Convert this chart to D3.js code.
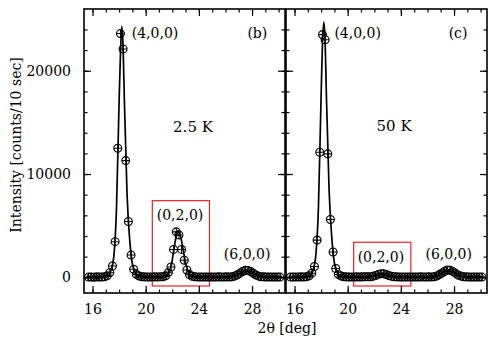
<!DOCTYPE html>
<html><head><meta charset="utf-8">
<script src="https://cdn.jsdelivr.net/npm/d3@7"></script>
<style>
body{margin:0;background:#fff}
svg{display:block}
text{font-family:"DejaVu Serif",serif;fill:#000}
</style>
</head><body>
<svg id="chart" width="490" height="341"></svg>
<script>
// ---- data ----
const angles = [15.7,15.9,16.1,16.3,16.5,16.7,16.9,17.1,17.3,17.5,17.7,17.9,18.1,18.3,18.5,18.7,18.9,19.1,19.3,19.5,19.7,19.9,
  20.1,20.3,20.5,20.7,20.9,21.1,21.3,21.5,21.7,21.9,22.1,22.3,22.5,22.7,22.9,23.1,23.3,23.5,23.7,23.9,
  24.1,24.3,24.5,24.7,24.9,25.1,25.3,25.5,25.7,25.9,26.1,26.3,26.5,26.7,26.9,27.1,27.3,27.5,27.7,27.9,
  28.1,28.3,28.5,28.7,28.9,29.1,29.3,29.5,29.7,29.9,30.1];
const intensity25K = [20,30,10,40,20,30,60,150,450,1100,3450,12500,23600,22100,11300,5400,2150,780,280,120,60,40,
  30,20,30,40,30,50,60,150,450,1000,2700,4400,4100,2700,1650,700,250,100,50,30,
  20,30,20,30,20,30,20,40,30,20,40,30,60,120,250,400,560,680,650,560,
  380,220,110,60,40,30,20,30,20,30,20];
const intensity50K = [20,30,20,30,40,30,60,150,400,1050,3600,12100,23500,23000,11950,5600,2450,850,280,120,60,40,
  30,20,30,40,30,40,50,60,60,100,180,280,350,340,260,170,100,60,40,30,
  20,30,20,30,20,30,20,40,30,20,40,30,60,130,260,420,580,700,680,570,
  400,230,120,60,40,30,20,30,20,30,20];
const fitAngles = [15.6,17.0,17.2,17.4,17.6,17.8,18.0,18.1,18.2,18.3,18.4,18.6,18.8,19.0,19.2,19.4,19.7,
  21.2,21.6,21.9,22.1,22.3,22.45,22.6,22.8,23.0,23.2,23.5,23.9,
  26.2,26.6,27.0,27.3,27.6,27.9,28.2,28.6,29.0,30.2];
const fit25K = [30,60,250,700,2000,6500,17000,21500,24300,22300,17000,8000,3600,1300,500,180,60,
  50,250,1000,2500,4000,4500,4100,2800,1400,550,150,40,
  40,100,320,560,680,560,320,100,40,30];
const fit50K = [30,60,250,700,2100,6800,17500,22500,24700,23000,17500,8500,3900,1400,500,180,60,
  50,80,130,200,300,350,360,300,210,130,70,40,
  40,110,340,580,720,600,350,110,40,30];
const xMajorTicks = [16,20,24,28];
const xMinorTicks = [16,17,18,19,20,21,22,23,24,25,26,27,28,29,30];
const yMajorTicks = [0,10000,20000];
const yMinorTicks = [0,2000,4000,6000,8000,10000,12000,14000,16000,18000,20000,22000,24000];
const panelTags = ["(b)","(c)"];
const temperatures = ["2.5 K","50 K"];
const peakLabels = ["(4,0,0)","(0,2,0)","(6,0,0)"];
const boxX = [[20.5,24.8],[20.45,24.75]];
const boxY = [[-840,7420],[-840,3390]];

// ---- layout ----
const svg = d3.select("#chart");
const plotTop = 9, plotBottom = 293;
const panelLeft = [84, 286], panelW = 201;
const xDomain = [15.36, 30.48];
const y = d3.scaleLinear().domain([-1520, 25980]).range([plotBottom, plotTop]);

const series = [intensity25K, intensity50K];
const fits = [fit25K, fit50K];
const labelPos = [
  {p400:[20.7,23650], tag:[28.4,23650], temp:[23.56,14550], p020:[22.58,6030], p600:[27.63,2255]},
  {p400:[20.75,23650], tag:[28.3,23650], temp:[23.49,14650], p020:[22.5,1965], p600:[27.6,2255]}
];

panelLeft.forEach((L, i) => {
  const x = d3.scaleLinear().domain(xDomain).range([L, L + panelW]);
  const g = svg.append("g");

  // red box
  g.append("rect")
    .attr("x", x(boxX[i][0])).attr("y", y(boxY[i][1]))
    .attr("width", x(boxX[i][1]) - x(boxX[i][0]))
    .attr("height", y(boxY[i][0]) - y(boxY[i][1]))
    .attr("fill", "none").attr("stroke", "#e5242b").attr("stroke-width", 1.2);

  // fit line
  const line = d3.line().x((d, k) => x(fitAngles[k])).y(d => y(d)).curve(d3.curveMonotoneX);
  g.append("path").datum(fits[i]).attr("d", line)
    .attr("fill", "none").attr("stroke", "#000").attr("stroke-width", 1.7);

  // markers: open circle with cross
  const m = g.append("g").selectAll("g").data(series[i]).join("g")
    .attr("transform", (d, k) => `translate(${x(angles[k])},${y(d)})`);
  m.append("circle").attr("r", 4).attr("fill", "none").attr("stroke", "#000").attr("stroke-width", 1.05);
  m.append("path").attr("d", "M-4,0H4M0,-4V4").attr("stroke", "#000").attr("stroke-width", 1.05);

  // axes (inward ticks, all four sides)
  const addAxis = (axis, tf, ticks, size, fmt, pad) => {
    const a = g.append("g").attr("transform", tf)
      .call(axis.tickValues(ticks).tickSize(size).tickSizeOuter(0).tickPadding(pad).tickFormat(fmt));
    a.select(".domain").remove();
    a.selectAll("line").attr("stroke", "#000").attr("stroke-width", 1.2);
    a.selectAll("text").style("font-family", '"DejaVu Serif",serif').style("font-size", "14px").attr("fill", "#000");
    return a;
  };
  const none = () => "";
  addAxis(d3.axisBottom(x), `translate(0,${plotBottom})`, xMajorTicks, -7, d3.format("d"), 11);
  addAxis(d3.axisBottom(x), `translate(0,${plotBottom})`, xMinorTicks, -3.5, none, 0);
  addAxis(d3.axisTop(x), `translate(0,${plotTop})`, xMajorTicks, -7, none, 0);
  addAxis(d3.axisTop(x), `translate(0,${plotTop})`, xMinorTicks, -3.5, none, 0);
  addAxis(d3.axisLeft(y), `translate(${L},0)`, yMajorTicks, -7, i === 0 ? d3.format("d") : none, 13);
  addAxis(d3.axisLeft(y), `translate(${L},0)`, yMinorTicks, -3.5, none, 0);
  addAxis(d3.axisRight(y), `translate(${L + panelW},0)`, yMajorTicks, -7, none, 0);
  addAxis(d3.axisRight(y), `translate(${L + panelW},0)`, yMinorTicks, -3.5, none, 0);

  // frame
  g.append("rect").attr("x", L).attr("y", plotTop).attr("width", panelW).attr("height", plotBottom - plotTop)
    .attr("fill", "none").attr("stroke", "#000").attr("stroke-width", 1.6);

  // annotations
  const P = labelPos[i];
  const txt = (pos, s, fs) => g.append("text").attr("x", x(pos[0])).attr("y", y(pos[1])).attr("dy", "0.36em")
    .attr("text-anchor", "middle").style("font-size", fs + "px").text(s);
  txt(P.p400, peakLabels[0], 14);
  txt(P.tag, panelTags[i], 14);
  txt(P.temp, temperatures[i], 15);
  txt(P.p020, peakLabels[1], 14);
  txt(P.p600, peakLabels[2], 14);
});

// axis titles
svg.append("text").attr("transform", "translate(16,145) rotate(-90)").attr("text-anchor", "middle")
  .attr("dy", "0.36em").style("font-size", "14px").text("Intensity [counts/10 sec]");
svg.append("text").attr("x", 287).attr("y", 328).attr("text-anchor", "middle")
  .attr("dy", "0.36em").style("font-size", "14px").text("2θ [deg]");
</script>
</body></html>
